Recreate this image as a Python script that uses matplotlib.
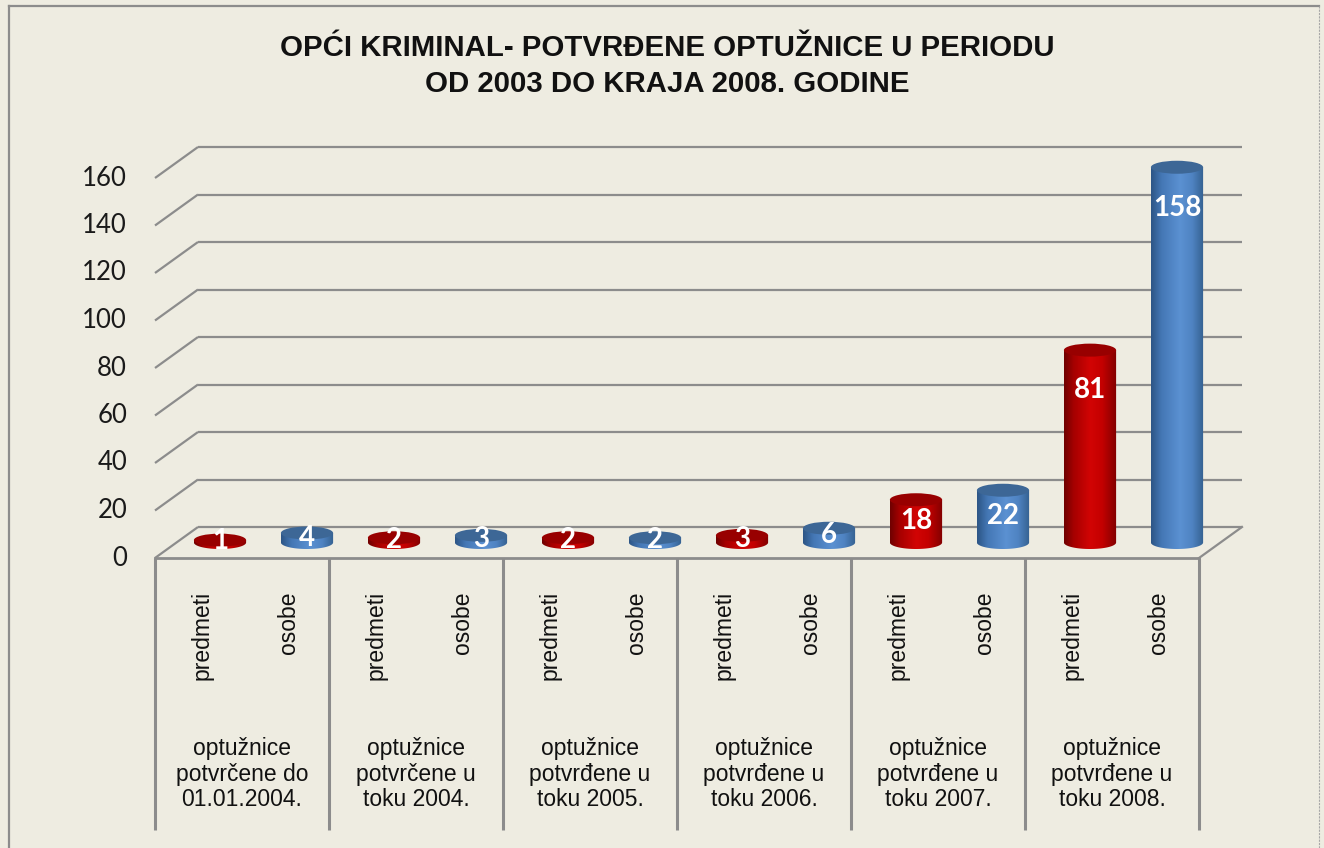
import numpy as np
import matplotlib
matplotlib.use("Agg")
import matplotlib.pyplot as plt
from matplotlib.patches import Ellipse, Polygon
from matplotlib.colors import LinearSegmentedColormap
from matplotlib.lines import Line2D

# ---------------- data ----------------
title_lines = ["OPĆI KRIMINAL- POTVRĐENE OPTUŽNICE U PERIODU",
               "OD 2003 DO KRAJA 2008. GODINE"]
groups = ["optužnice\npotvrčene do\n01.01.2004.",
          "optužnice\npotvrčene u\ntoku 2004.",
          "optužnice\npotvrđene u\ntoku 2005.",
          "optužnice\npotvrđene u\ntoku 2006.",
          "optužnice\npotvrđene u\ntoku 2007.",
          "optužnice\npotvrđene u\ntoku 2008."]
series_names = ["predmeti", "osobe"]
predmeti = [1, 2, 2, 3, 18, 81]
osobe = [4, 3, 2, 6, 22, 158]
yticks = [0, 20, 40, 60, 80, 100, 120, 140, 160]

# ---------------- layout (pixels) ----------------
W, H = 1324, 848
X0, X1 = 155, 1199          # front floor edge, left/right
Y0, YT = 558, 178           # pixel rows of 0 and 160 on front plane
DXP, DYP = 43, 31           # depth offset of back wall
BG = "#EEECE1"
GRID = "#8C8C8C"

n_slots = len(groups) * len(series_names)
slot_px = (X1 - X0) / n_slots
unit_px = (Y0 - YT) / (yticks[-1] - yticks[0])
DX = DXP / slot_px
DY = DYP / unit_px

fig = plt.figure(figsize=(W / 100, H / 100), dpi=100, facecolor=BG)
ax = fig.add_axes([0, 0, 1, 1])
ax.set_facecolor(BG)
ax.set_axis_off()
xlim = (-0.5 - X0 / slot_px, -0.5 + (W - X0) / slot_px)
ylim = (-(H - Y0) / unit_px, Y0 / unit_px)
ax.set_xlim(*xlim)
ax.set_ylim(*ylim)

# outer frame (left, top, right)
fx0, fx1, fy0 = 9 / W, 1319 / W, 1 - 5.5 / H
fig.add_artist(Line2D([fx0, fx0], [0, fy0], color=GRID, lw=1.6, transform=fig.transFigure))
fig.add_artist(Line2D([fx0, fx1], [fy0, fy0], color=GRID, lw=1.6, transform=fig.transFigure))
fig.add_artist(Line2D([fx1, fx1], [0, fy0], color="#A8A8A8", lw=0.8, ls=(0, (2, 1)),
                      transform=fig.transFigure))

# title
fs_title = 21.2
fig.text(667 / W, 1 - 48 / H, title_lines[0], ha="center", va="center",
         fontsize=fs_title, fontweight="bold", family="Liberation Sans", color="#111111")
fig.text(667 / W, 1 - 84 / H, title_lines[1], ha="center", va="center",
         fontsize=fs_title, fontweight="bold", family="Liberation Sans", color="#111111")

xl, xr = -0.5, n_slots - 0.5
glw = 1.6
# back wall grid + left wall diagonals
for v in yticks:
    ax.plot([xl, xl + DX], [v, v + DY], color=GRID, lw=glw, solid_capstyle="butt", zorder=1)
    ax.plot([xl + DX, xr + DX], [v + DY, v + DY], color=GRID, lw=glw, solid_capstyle="butt", zorder=1)
    ax.text(xl - 28 / slot_px, v, str(v), ha="right", va="center", fontsize=18.5,
            family="Lato", color="#1A1A1A")
# floor
ax.plot([xl, xr], [0, 0], color=GRID, lw=2.0, zorder=1)
ax.plot([xr, xr + DX], [0, DY], color=GRID, lw=glw, zorder=1)

# category box
box_bottom = -(830 - Y0) / unit_px
for gi in range(len(groups) + 1):
    b = xl + gi * len(series_names)
    ax.plot([b, b], [0, box_bottom], color=GRID, lw=2.2, solid_capstyle="butt", zorder=1)

for gi, g in enumerate(groups):
    gc = gi * len(series_names) + (len(series_names) - 1) / 2
    ax.text(gc, -(774 - Y0) / unit_px, g, ha="center", va="center", multialignment="center",
            linespacing=1.16, fontsize=16.5, family="Liberation Sans", color="#111111")
    for si, sname in enumerate(series_names):
        s = gi * len(series_names) + si
        ax.text(s + 0.04, -(591 - Y0) / unit_px, sname, rotation=90, ha="center", va="top",
                fontsize=16.5, family="Liberation Sans", color="#111111")

# cylinders
red_cmap = LinearSegmentedColormap.from_list(
    "r", [(0, "#6E0000"), (0.18, "#A50000"), (0.5, "#D20404"), (0.72, "#C40000"), (1, "#800000")])
blue_cmap = LinearSegmentedColormap.from_list(
    "b", [(0, "#2C5585"), (0.2, "#4477B5"), (0.55, "#5B91D2"), (0.78, "#4F83C2"), (1, "#34608F")])
styles = [(red_cmap, "#980000"), (blue_cmap, "#3D6796")]
values = [predmeti, osobe]

cw = 0.6
eh = 13 / unit_px
base = DY / 2
grad = np.linspace(0, 1, 256)[None, :]
t = np.linspace(np.pi, 2 * np.pi, 80)
for si, vals in enumerate(values):
    cmap, topc = styles[si]
    for gi, v in enumerate(vals):
        s = gi * len(series_names) + si
        c = s + DX / 2
        top = base + v
        xs = list(c + cw / 2 * np.cos(t)) + [c + cw / 2, c - cw / 2]
        ys = list(base + eh / 2 * np.sin(t)) + [top, top]
        poly = Polygon(np.column_stack([xs, ys]), closed=True, transform=ax.transData,
                       facecolor="none", edgecolor="none")
        ax.add_patch(poly)
        im = ax.imshow(grad, cmap=cmap, extent=[c - cw / 2, c + cw / 2, base - eh / 2, top],
                       aspect="auto", interpolation="bilinear", origin="lower", zorder=3)
        im.set_clip_path(poly)
        ax.add_patch(Ellipse((c, top), cw, eh, facecolor=topc, edgecolor="none", zorder=4))
        ly = base + max(v - 17, v / 2)
        ax.text(c, ly, str(v), ha="center", va="center", fontsize=20, fontweight="bold",
                family="Lato", color="white", zorder=6)

ax.set_xlim(*xlim)
ax.set_ylim(*ylim)
ax.set_aspect("auto")

fig.savefig("out.png", dpi=100, facecolor=BG)
